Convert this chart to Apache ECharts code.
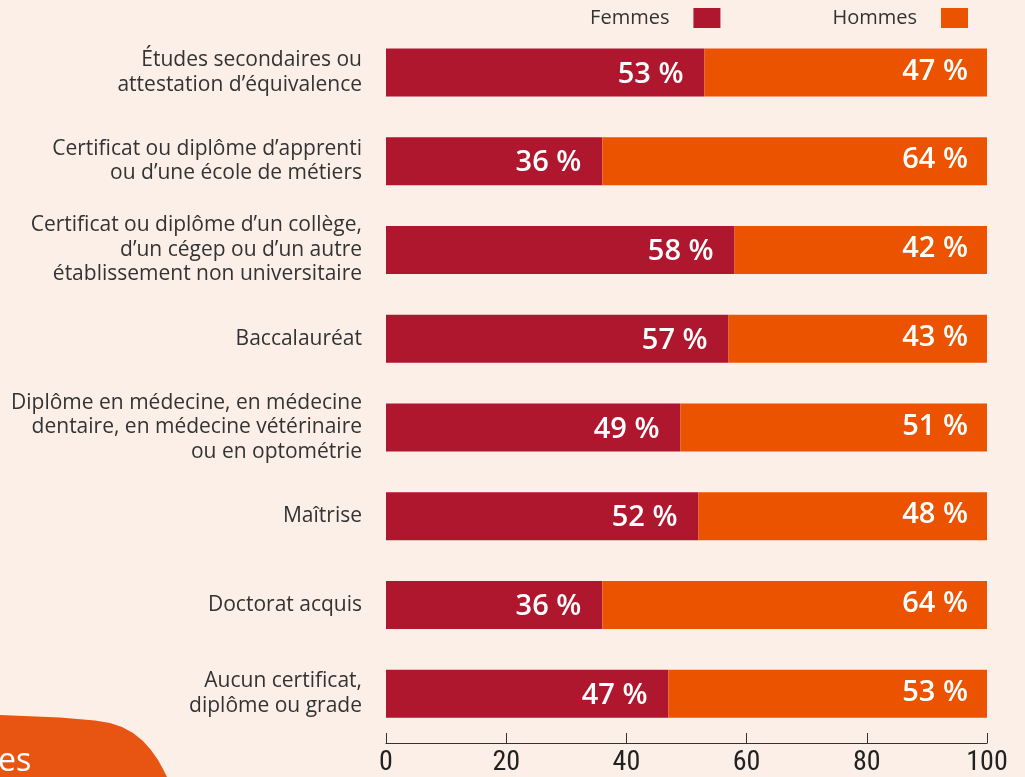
<!DOCTYPE html>
<html><head><meta charset="utf-8">
<script src="https://cdn.jsdelivr.net/npm/echarts@6/dist/echarts.min.js"></script>
<style>html,body{margin:0;padding:0;background:#fcefe7;}#c{width:1025px;height:777px;}</style>
</head><body><div id="c"></div>
<script>
const categories = [
  "Études secondaires ou\nattestation d’équivalence",
  "Certificat ou diplôme d’apprenti\nou d’une école de métiers",
  "Certificat ou diplôme d’un collège,\nd’un cégep ou d’un autre\nétablissement non universitaire",
  "Baccalauréat",
  "Diplôme en médecine, en médecine\ndentaire, en médecine vétérinaire\nou en optométrie",
  "Maîtrise",
  "Doctorat acquis",
  "Aucun certificat,\ndiplôme ou grade"
];
const femmes = [53, 36, 58, 57, 49, 52, 36, 47];
const hommes = [47, 64, 42, 43, 51, 48, 64, 53];
const seriesNames = ["Femmes", "Hommes"];
const xTicks = [0, 20, 40, 60, 80, 100];

const chart = echarts.init(document.getElementById('c'), null, {renderer: 'canvas'});
const labelStyle = {
  show: true, position: 'insideRight', distance: 19, formatter: '{c} %',
  color: '#fff', fontSize: 29, fontWeight: 600, fontFamily: 'Open Sans, sans-serif'
};
// decorative corner shape
const deco = [[0,715],[60,717.5],[95,720.5],[110,723],[122,727],[133,733],[143,741],[151,750],[158,760],[163,769],[167,777],[0,777]];
chart.setOption({
  backgroundColor: '#fcefe7',
  animation: false,
  graphic: [{
    type: 'polygon', silent: true, z: 0,
    shape: { points: deco },
    style: { fill: '#e85512' }
  }, {
    type: 'text', left: -2, top: 746, silent: true, z: 1,
    style: { text: 'es', fill: '#fff', fontSize: 32, fontFamily: 'Open Sans, sans-serif' }
  }],
  legend: {
    data: seriesNames, top: 3, right: 52, align: 'right', itemGap: 112,
    itemWidth: 27, itemHeight: 20, icon: 'rect',
    textStyle: { fontSize: 20, color: '#333', fontFamily: 'Open Sans, sans-serif', padding: [0, 19, 0, 0] }
  },
  grid: { left: 386, right: 38, top: 28, bottom: 39, containLabel: false },
  xAxis: {
    type: 'value', min: 0, max: 100, interval: 20, offset: 5,
    axisLine: { show: true, lineStyle: { color: '#333', width: 1.2 } },
    axisTick: { show: true, inside: true, length: 10, lineStyle: { color: '#333' } },
    splitLine: { show: false },
    axisLabel: { fontSize: 28, color: '#222', margin: 6,
      fontFamily: 'Liberation Sans Narrow, Roboto Condensed, Liberation Sans, sans-serif',
      formatter: v => xTicks.includes(v) ? String(v) : '' }
  },
  yAxis: {
    type: 'category', data: categories, inverse: true,
    axisLine: { show: false }, axisTick: { show: false },
    axisLabel: { fontSize: 21, color: '#333', margin: 24, lineHeight: 24.5, align: 'right',
      fontFamily: 'Open Sans, sans-serif' }
  },
  series: [{
    name: 'Femmes', type: 'bar', stack: 't', data: femmes, barWidth: 48,
    itemStyle: { color: '#ae172e' }, label: Object.assign({}, labelStyle, { offset: [-2, 2] })
  }, {
    name: 'Hommes', type: 'bar', stack: 't', data: hommes, barWidth: 48,
    itemStyle: { color: '#ec5300' }, label: Object.assign({}, labelStyle, { offset: [0, -1] })
  }]
});
</script></body></html>
